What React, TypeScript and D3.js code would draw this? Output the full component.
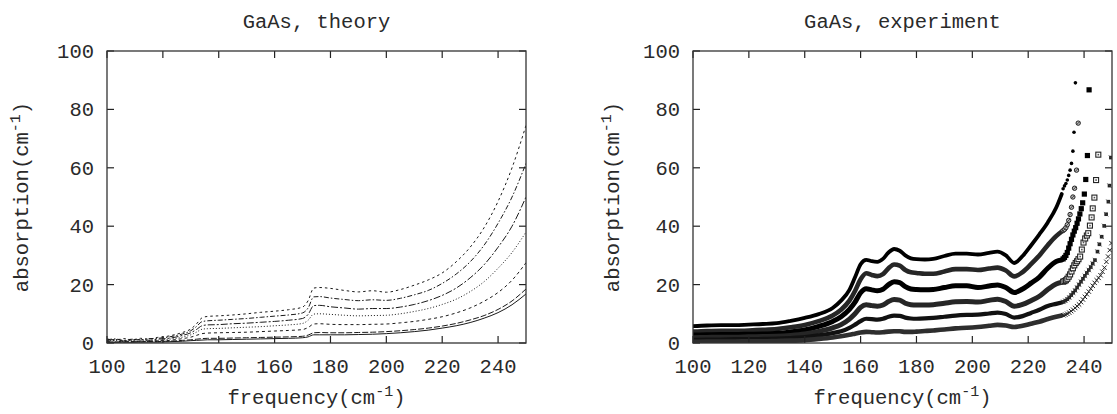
import React from 'react';
import * as d3 from 'd3';

// ---------- axis ticks ----------
const xTicks = [100, 120, 140, 160, 180, 200, 220, 240];
const yTicks = [0, 20, 40, 60, 80, 100];

// ---------- theory (left panel) ----------
const theoryFreq = [100, 103, 106, 109, 112, 115, 118, 121, 124, 127, 130, 132, 134, 136, 140, 145, 150, 155, 160, 165, 170, 172, 174, 176, 180, 185, 190, 195, 200, 205, 210, 215, 220, 225, 230, 235, 240, 245, 250];
const theory1 = [1.4, 1.0, 1.5, 1.1, 1.6, 1.3, 1.9, 2.2, 2.8, 3.6, 4.8, 6.5, 8.6, 9.1, 9.3, 9.6, 10.0, 10.5, 10.9, 11.4, 12.3, 14.5, 18.8, 19.0, 18.7, 18.0, 17.5, 17.9, 17.4, 18.3, 19.8, 21.6, 24.0, 27.8, 32.8, 39.5, 48.5, 60.0, 74.5];
const theory2 = [1.1, 1.4, 0.9, 1.3, 1.0, 1.5, 1.6, 1.9, 2.4, 3.1, 4.2, 5.6, 7.3, 7.6, 7.8, 8.1, 8.4, 8.8, 9.2, 9.6, 10.3, 12.0, 15.8, 15.9, 15.4, 14.9, 14.5, 14.8, 14.6, 15.3, 16.5, 18.0, 20.4, 23.6, 27.8, 33.5, 41.0, 50.0, 61.5];
const theory3 = [0.8, 1.2, 0.7, 1.0, 1.2, 0.9, 1.3, 1.5, 1.9, 2.6, 3.5, 4.6, 5.9, 6.2, 6.3, 6.6, 6.8, 7.1, 7.4, 7.8, 8.4, 9.8, 12.8, 12.9, 12.4, 12.0, 11.6, 11.8, 11.8, 12.3, 13.2, 14.5, 16.3, 18.8, 22.3, 26.8, 32.8, 40.0, 50.0];
const theory4 = [0.6, 0.9, 0.5, 0.8, 0.6, 1.0, 0.9, 1.2, 1.5, 2.0, 2.8, 3.7, 4.7, 4.9, 5.0, 5.2, 5.4, 5.6, 5.9, 6.2, 6.7, 7.8, 9.9, 10.0, 9.8, 9.5, 9.3, 9.4, 9.5, 10.0, 10.8, 11.8, 13.2, 15.0, 17.6, 21.0, 25.6, 31.0, 38.0];
const theory5 = [0.5, 0.3, 0.7, 0.4, 0.6, 0.5, 0.8, 0.8, 1.1, 1.5, 2.0, 2.6, 3.2, 3.4, 3.5, 3.6, 3.7, 3.9, 4.1, 4.3, 4.6, 5.3, 6.5, 6.6, 6.4, 6.3, 6.3, 6.4, 6.5, 6.9, 7.4, 8.1, 9.0, 10.3, 12.0, 14.3, 17.3, 21.5, 27.5];
const theory6 = [0.3, 0.4, 0.3, 0.5, 0.4, 0.5, 0.5, 0.6, 0.7, 0.9, 1.1, 1.3, 1.5, 1.6, 1.6, 1.7, 1.8, 1.9, 2.0, 2.1, 2.3, 2.7, 3.5, 3.6, 3.5, 3.5, 3.6, 3.7, 3.9, 4.2, 4.6, 5.1, 5.8, 6.7, 7.9, 9.4, 11.5, 14.4, 18.5];
const theory7 = [0.2, 0.2, 0.3, 0.2, 0.3, 0.3, 0.3, 0.4, 0.5, 0.6, 0.8, 0.9, 1.0, 1.1, 1.1, 1.2, 1.3, 1.4, 1.5, 1.6, 1.8, 2.1, 2.8, 2.8, 2.8, 2.8, 2.9, 3.0, 3.2, 3.5, 3.9, 4.4, 5.1, 5.9, 7.0, 8.5, 10.4, 13.1, 16.8];

// ---------- experiment (right panel) ----------
const expFreq = [100, 105, 110, 115, 120, 125, 130, 135, 140, 145, 150, 153, 156, 158, 160, 162, 164, 166, 168, 170, 172, 174, 176, 178, 180, 183, 186, 190, 194, 198, 202, 206, 209, 212, 215, 218, 221, 224, 227, 230, 232];
const expA = [5.8, 6.0, 6.1, 6.1, 6.3, 6.5, 6.8, 7.6, 8.6, 9.9, 12.0, 14.5, 18.2, 22.5, 27.0, 28.5, 28.0, 27.8, 28.8, 31.0, 32.2, 31.6, 30.0, 29.0, 28.7, 28.6, 28.8, 29.8, 30.6, 30.6, 30.3, 30.9, 31.3, 30.0, 27.4, 29.8, 33.4, 37.2, 41.3, 46.3, 51.0];
const expB = [3.9, 4.1, 4.2, 4.2, 4.3, 4.5, 4.8, 5.4, 6.2, 7.5, 9.4, 11.4, 14.5, 17.8, 21.8, 23.9, 23.3, 22.9, 23.6, 25.6, 26.9, 26.5, 25.0, 24.2, 24.0, 23.7, 23.7, 24.5, 25.3, 25.3, 25.0, 25.5, 25.8, 24.8, 22.8, 24.3, 27.0, 30.0, 33.5, 36.6, 38.2];
const expC = [2.7, 2.8, 2.9, 2.9, 3.0, 3.1, 3.3, 3.8, 4.5, 5.7, 7.4, 9.0, 11.5, 14.0, 17.2, 18.6, 18.2, 17.9, 18.4, 20.0, 21.0, 20.7, 19.3, 18.5, 18.3, 18.2, 18.3, 19.0, 19.6, 19.6, 19.0, 19.5, 19.9, 19.0, 17.3, 18.5, 20.5, 22.6, 25.6, 27.9, 28.4];
const expD = [1.8, 1.9, 2.0, 2.0, 2.1, 2.2, 2.3, 2.6, 3.1, 4.0, 5.2, 6.3, 8.2, 10.0, 12.2, 13.1, 12.8, 12.6, 13.0, 14.2, 14.9, 14.7, 13.6, 13.1, 13.0, 13.0, 13.1, 13.6, 14.1, 14.2, 14.0, 14.6, 15.0, 14.2, 12.6, 13.2, 14.5, 16.0, 18.3, 20.2, 20.8];
const expE = [1.1, 1.2, 1.2, 1.3, 1.3, 1.4, 1.5, 1.7, 2.0, 2.6, 3.4, 4.0, 5.2, 6.3, 7.5, 8.3, 8.2, 8.0, 8.3, 9.0, 9.4, 9.3, 8.7, 8.4, 8.3, 8.4, 8.6, 9.0, 9.4, 9.6, 9.7, 10.1, 10.4, 9.9, 8.7, 9.2, 10.3, 11.4, 12.7, 13.4, 13.9];
const expF = [0.4, 0.5, 0.5, 0.5, 0.6, 0.6, 0.7, 0.8, 1.0, 1.4, 1.9, 2.3, 2.8, 3.2, 3.6, 3.8, 3.7, 3.6, 3.7, 3.9, 4.0, 4.0, 3.8, 3.8, 3.9, 4.1, 4.3, 4.6, 5.0, 5.2, 5.5, 5.9, 6.2, 6.0, 5.5, 5.9, 6.6, 7.3, 8.2, 9.0, 9.4];

// sparse high-frequency points of each experimental series
const tailA: [number, number][] = [[232.5, 52.8], [233, 53.8], [233.5, 54.6], [234, 55.8], [234.5, 57.4], [235, 59.2], [235.5, 61.5], [236, 65.7], [236.4, 72.2], [236.9, 89.1]];
const tailB: [number, number][] = [[232.5, 38.5], [233, 38.9], [233.5, 39.5], [234, 40.5], [234.5, 42.0], [235, 44.0], [235.5, 46.5], [236, 50.0], [236.6, 53.0], [237.3, 59.2], [237.9, 75.3]];
const tailC: [number, number][] = [[232.5, 28.8], [233, 29.3], [233.5, 30.0], [234, 31.0], [234.5, 32.5], [235, 34.0], [235.5, 35.5], [236, 37.0], [236.5, 38.3], [237, 39.5], [237.5, 41.0], [238, 42.5], [238.5, 44.2], [239, 46.0], [239.5, 48.0], [240.1, 51.0], [240.6, 56.0], [241.2, 64.2], [241.8, 86.7]];
const tailD: [number, number][] = [[232.5, 21.0], [233, 21.2], [233.5, 21.5], [234, 22.0], [234.5, 22.7], [235, 23.5], [235.5, 24.5], [236, 25.6], [236.5, 26.6], [237, 27.4], [237.5, 28.0], [238, 28.7], [238.6, 29.6], [239.2, 32.0], [239.8, 34.4], [240.4, 35.8], [241, 36.8], [241.5, 37.6], [242.1, 40.2], [242.7, 43.0], [243.1, 46.1], [243.7, 49.8], [244.3, 55.8], [245.1, 64.5]];
const tailE: [number, number][] = [[232.6, 14.1], [233.3, 14.5], [234, 15.0], [234.7, 15.6], [235.4, 16.4], [236.1, 17.2], [236.8, 18.0], [237.5, 19.0], [238.2, 20.0], [238.9, 21.0], [239.6, 22.0], [240.3, 23.0], [241, 24.0], [241.7, 25.0], [242.4, 26.0], [243.1, 27.2], [243.9, 28.4], [244.8, 31.3], [245.5, 33.8], [246.3, 36.4], [247.2, 40.1], [247.9, 44.1], [248.7, 48.4], [249.1, 53.9], [249.6, 63.5]];
const tailF: [number, number][] = [[232.6, 9.5], [233.3, 9.7], [234, 10.0], [234.7, 10.4], [235.4, 10.9], [236.1, 11.4], [236.8, 12.0], [237.5, 12.6], [238.2, 13.2], [238.9, 14.0], [239.6, 14.9], [240.3, 15.8], [241, 16.7], [241.7, 17.6], [242.4, 18.6], [243.1, 19.6], [243.8, 20.6], [244.5, 21.5], [245.2, 22.3], [245.9, 23.2], [246.6, 24.4], [247.3, 25.8], [248, 27.8], [248.6, 29.6], [249.2, 31.8], [249.8, 34.2]];

const FONT = '"Courier New", Courier, "Nimbus Mono PS", "Nimbus Mono L", FreeMono, "Liberation Mono", monospace';
const TEXT_COL = '#2a2a2a';
const TOP = 51;
const BOTTOM = 343;

type Panel = { x0: number; x1: number; title: string; ylabX: number; id: string };
const panels: Panel[] = [
  { x0: 107, x1: 526, title: 'GaAs, theory', ylabX: 28, id: 'L' },
  { x0: 693, x1: 1112, title: 'GaAs, experiment', ylabX: 619, id: 'R' },
];

const yScale = d3.scaleLinear().domain([0, 100]).range([BOTTOM, TOP]);

function Frame({ p, x }: { p: Panel; x: d3.ScaleLinear<number, number> }) {
  const tl = 7;
  return (
    <g>
      <text x={(p.x0 + p.x1) / 2} y={28} textAnchor="middle" fontFamily={FONT} fontSize={20.5} fill={TEXT_COL}>{p.title}</text>
      {xTicks.map((t) => (
        <g key={'x' + t}>
          <line x1={x(t)} x2={x(t)} y1={BOTTOM} y2={BOTTOM - tl} stroke="#222" strokeWidth={1.2} />
          <line x1={x(t)} x2={x(t)} y1={TOP} y2={TOP + tl} stroke="#222" strokeWidth={1.2} />
          <text x={x(t)} y={373} textAnchor="middle" fontFamily={FONT} fontSize={20.5} fill={TEXT_COL}>{t}</text>
        </g>
      ))}
      {yTicks.map((t) => (
        <g key={'y' + t}>
          <line x1={p.x0} x2={p.x0 + tl} y1={yScale(t)} y2={yScale(t)} stroke="#222" strokeWidth={1.2} />
          <line x1={p.x1} x2={p.x1 - tl} y1={yScale(t)} y2={yScale(t)} stroke="#222" strokeWidth={1.2} />
          <text x={p.x0 - 13} y={yScale(t) + 7} textAnchor="end" fontFamily={FONT} fontSize={20.5} fill={TEXT_COL}>{t}</text>
        </g>
      ))}
      <rect x={p.x0} y={TOP} width={p.x1 - p.x0} height={BOTTOM - TOP} fill="none" stroke="#333" strokeWidth={1.3} />
      <text x={(p.x0 + p.x1) / 2} y={404} textAnchor="middle" fontFamily={FONT} fontSize={20.5} fill={TEXT_COL}>
        <tspan>frequency(cm</tspan>
        <tspan dy={-8} fontSize={15}>-1</tspan>
        <tspan dy={8}>)</tspan>
      </text>
      <text transform={`translate(${p.ylabX},${(TOP + BOTTOM) / 2}) rotate(-90)`} textAnchor="middle" fontFamily={FONT} fontSize={20.5} fill={TEXT_COL}>
        <tspan>absorption(cm</tspan>
        <tspan dy={-8} fontSize={15}>-1</tspan>
        <tspan dy={8}>)</tspan>
      </text>
    </g>
  );
}

const theorySeries = [
  { v: theory1, dash: '2.5,3' },
  { v: theory2, dash: '5,2,1.5,2' },
  { v: theory3, dash: '7,2,2,2' },
  { v: theory4, dash: '1,2' },
  { v: theory5, dash: '3,3' },
  { v: theory6, dash: '6,2' },
  { v: theory7, dash: '' },
];

type Expo = { v: number[]; tail: [number, number][]; w: number; col: string; marker: string };
const expSeries: Expo[] = [
  { v: expA, tail: tailA, w: 3.8, col: '#000', marker: 'dot' },
  { v: expB, tail: tailB, w: 4.6, col: '#262626', marker: 'ocircle' },
  { v: expC, tail: tailC, w: 5, col: '#000', marker: 'fsquare' },
  { v: expD, tail: tailD, w: 5, col: '#262626', marker: 'osquare' },
  { v: expE, tail: tailE, w: 4.2, col: '#111', marker: 'small' },
  { v: expF, tail: tailF, w: 4.6, col: '#2e2e2e', marker: 'cross' },
];

function Marker({ kind, cx, cy }: { kind: string; cx: number; cy: number }) {
  switch (kind) {
    case 'dot':
      return <circle cx={cx} cy={cy} r={1.8} fill="#000" />;
    case 'ocircle':
      return (
        <g>
          <circle cx={cx} cy={cy} r={2.2} fill="#bbb" stroke="#222" strokeWidth={1} />
          <line x1={cx - 1.5} y1={cy + 1.5} x2={cx + 1.5} y2={cy - 1.5} stroke="#222" strokeWidth={0.8} />
        </g>
      );
    case 'fsquare':
      return <rect x={cx - 2.6} y={cy - 2.6} width={5.2} height={5.2} fill="#000" />;
    case 'osquare':
      return (
        <g>
          <rect x={cx - 2.5} y={cy - 2.5} width={5} height={5} fill="#fff" stroke="#222" strokeWidth={1.1} />
          <rect x={cx - 0.8} y={cy - 0.8} width={1.6} height={1.6} fill="#555" />
        </g>
      );
    case 'small':
      return (
        <g>
          <rect x={cx - 1.8} y={cy - 1.8} width={3.6} height={3.6} fill="#222" />
          <line x1={cx - 2.3} y1={cy - 2.3} x2={cx + 2.3} y2={cy + 2.3} stroke="#444" strokeWidth={0.7} />
        </g>
      );
    default:
      return (
        <g stroke="#222" strokeWidth={1}>
          <line x1={cx - 2.2} y1={cy - 2.2} x2={cx + 2.2} y2={cy + 2.2} />
          <line x1={cx - 2.2} y1={cy + 2.2} x2={cx + 2.2} y2={cy - 2.2} />
        </g>
      );
  }
}

export default function App() {
  const [pl, pr] = panels;
  const xL = d3.scaleLinear().domain([100, 250]).range([pl.x0, pl.x1]);
  const xR = d3.scaleLinear().domain([100, 250]).range([pr.x0, pr.x1]);

  const lineL = d3
    .line<number>()
    .x((_, i) => xL(theoryFreq[i]))
    .y((d) => yScale(d))
    .curve(d3.curveMonotoneX);

  const lineR = d3
    .line<[number, number]>()
    .x((d) => xR(d[0]))
    .y((d) => yScale(d[1]))
    .curve(d3.curveMonotoneX);

  return (
    <svg width={1117} height={414} style={{ position: 'absolute', left: 0, top: 0, background: '#fff' }}>
      <defs>
        <clipPath id="clipL">
          <rect x={pl.x0} y={TOP} width={pl.x1 - pl.x0} height={BOTTOM - TOP} />
        </clipPath>
        <clipPath id="clipR">
          <rect x={pr.x0} y={TOP} width={pr.x1 - pr.x0} height={BOTTOM - TOP} />
        </clipPath>
      </defs>
      <rect x={0} y={0} width={1117} height={414} fill="#fff" />

      <g clipPath="url(#clipL)">
        {theorySeries.map((s, i) => (
          <path key={i} d={lineL(s.v) || ''} fill="none" stroke="#1a1a1a" strokeWidth={1} strokeDasharray={s.dash || undefined} />
        ))}
      </g>

      <g clipPath="url(#clipR)">
        {expSeries.map((s, i) => {
          const pts: [number, number][] = expFreq.map((f, j) => [f, s.v[j]]);
          return (
            <g key={i}>
              <path d={lineR(pts) || ''} fill="none" stroke={s.col} strokeWidth={s.w} strokeLinecap="round" strokeLinejoin="round" />
              {s.tail.map((d, j) => (
                <Marker key={j} kind={s.marker} cx={xR(d[0])} cy={yScale(d[1])} />
              ))}
            </g>
          );
        })}
      </g>

      <Frame p={pl} x={xL} />
      <Frame p={pr} x={xR} />
    </svg>
  );
}
